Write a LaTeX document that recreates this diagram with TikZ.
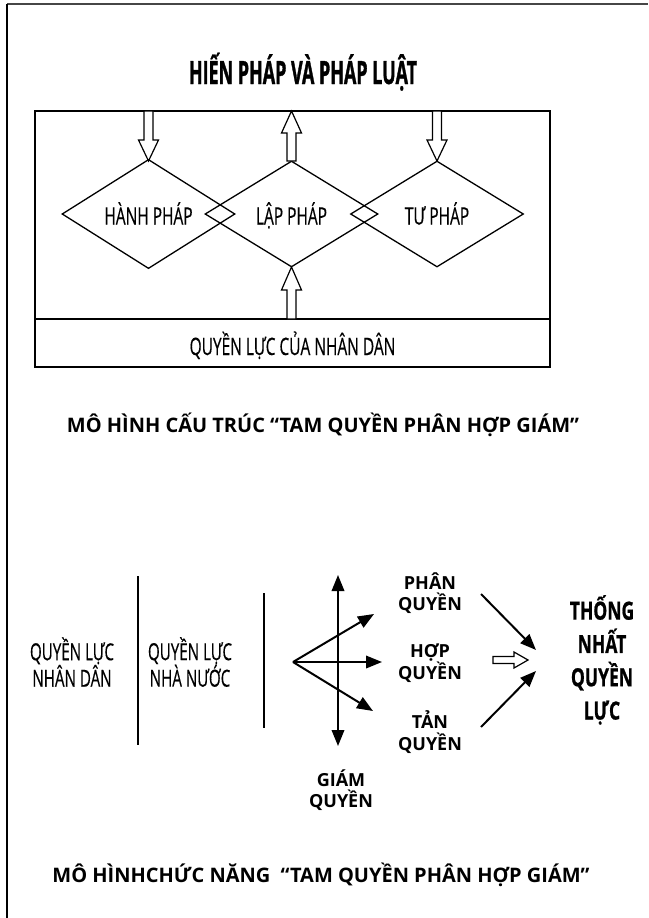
\documentclass[tikz,border=0pt]{standalone}
\usepackage{fontspec}
\setmainfont{Open Sans}
\newfontfamily\condf[FakeStretch=0.645, FakeBold=0.4]{Open Sans}
\newfontfamily\titlef[FakeStretch=0.56, FakeBold=1.0]{Open Sans}
\newfontfamily\thongf[FakeStretch=0.70, FakeBold=0.8]{Open Sans}
\usetikzlibrary{shapes.geometric,arrows.meta}
\tikzset{
  dia/.style={diamond, draw, line width=1.3pt, minimum width=173pt, minimum height=106pt,
    inner sep=0pt, font=\condf\fontsize{24}{28}\selectfont, text height=21pt, text depth=0pt},
  framebox/.style={draw, line width=1.2pt, inner sep=0pt},
  pics/harrow/.style n args={4}{code={
    \draw[line width=1.2pt, fill=white, line join=miter]
      (0,-#2/2) -- (#1-#4,-#2/2) -- (#1-#4,-#3/2) -- (#1,0) -- (#1-#4,#3/2) -- (#1-#4,#2/2) -- (0,#2/2) -- cycle;}},
  blk/.style={line width=2pt, -{Triangle[length=16pt,width=12.5pt]}},
  blkboth/.style={line width=2pt, {Triangle[length=16pt,width=12.5pt]}-{Triangle[length=16pt,width=12.5pt]}},
  bar/.style={line width=2pt},
  lab/.style={align=center, font=\bfseries\fontsize{18}{21.5}\selectfont, inner sep=0pt},
  condlab/.style={align=center, font=\condf\fontsize{23.5}{26.5}\selectfont, inner sep=0pt},
  caption/.style={font=\bfseries\fontsize{20}{24}\selectfont, inner sep=0pt, anchor=base},
}
\begin{document}
\begin{tikzpicture}[x=1pt,y=-1pt]
\useasboundingbox (0,0) rectangle (648,918);
% page frame
\coordinate (ftl) at (7,4);
\coordinate (ftr) at (648,4);
\coordinate (fbl) at (7,918);
\draw[gray!55!black, line width=1.6pt] (ftl) -- (ftr);
\draw[black, line width=1.5pt] (ftl) -- (fbl);

% title
\node[anchor=base, inner sep=0pt, font=\titlef\bfseries\fontsize{32}{36}\selectfont] (title) at (303,84) {HIẾN PHÁP VÀ PHÁP LUẬT};

% structural model
\node[framebox, minimum width=515pt, minimum height=208pt] (upper) at (292.5,215) {};
\node[framebox, minimum width=515pt, minimum height=48pt, font=\condf\fontsize{24}{28}\selectfont,
  text height=24pt, text depth=0pt] (people) at (292.5,343) {QUYỀN LỰC CỦA NHÂN DÂN};

\node[dia] (hanh) at (148.5,214) {HÀNH PHÁP};
\node[dia] (lap) at (291.5,214) {LẬP PHÁP};
\node[dia] (tu) at (437,214) {TƯ PHÁP};

\pic[rotate=-90] (a1) at (148.5,111) {harrow={50}{9}{20}{21}};
\pic[rotate=90] (a2) at (291.5,161) {harrow={50}{9}{20}{22}};
\pic[rotate=-90] (a3) at (437,111) {harrow={50}{9}{20}{21}};
\pic[rotate=90] (a4) at (291.5,319) {harrow={52}{9}{20}{23}};

\node[caption] (cap1) at (323,432) {MÔ HÌNH CẤU TRÚC “TAM QUYỀN PHÂN HỢP GIÁM”};

% functional model
\node[condlab] (nd) at (72,662) {QUYỀN LỰC\\NHÂN DÂN};
\node[condlab] (nn) at (190,662) {QUYỀN LỰC\\NHÀ NƯỚC};

\coordinate (b1t) at (138,576);
\coordinate (b1b) at (138,745);
\coordinate (b2t) at (264,593);
\coordinate (b2b) at (264,728);
\draw[bar] (b1t) -- (b1b);
\draw[bar] (b2t) -- (b2b);

\coordinate (vt) at (338,575);
\coordinate (vb) at (338,746);
\draw[blkboth] (vb) -- (vt);

\coordinate (o) at (293,662);
\coordinate (tp) at (374,614);
\coordinate (th) at (382,662);
\coordinate (tt) at (373,711);
\draw[blk] (o) -- (tp);
\draw[blk] (o) -- (th);
\draw[blk] (o) -- (tt);

\node[lab] (phan) at (430,593) {PHÂN\\QUYỀN};
\node[lab] (hop) at (430,663) {HỢP\\QUYỀN};
\node[lab] (tan) at (430,732) {TẢN\\QUYỀN};
\node[lab] (giam) at (341,790) {GIÁM\\QUYỀN};

\coordinate (d1s) at (481,594);
\coordinate (d1e) at (536,650);
\coordinate (d2s) at (481,727);
\coordinate (d2e) at (536,671);
\draw[blk] (d1s) -- (d1e);
\draw[blk] (d2s) -- (d2e);

\pic (ha) at (493,660) {harrow={35}{7}{16}{14}};

\node[align=center, inner sep=0pt, font=\thongf\bfseries\fontsize{25}{33.3}\selectfont] (thong) at (602,660) {THỐNG\\NHẤT\\QUYỀN\\LỰC};

\node[caption] (cap2) at (321,882) {MÔ HÌNHCHỨC NĂNG\ \ “TAM QUYỀN PHÂN HỢP GIÁM”};
\end{tikzpicture}
\end{document}
